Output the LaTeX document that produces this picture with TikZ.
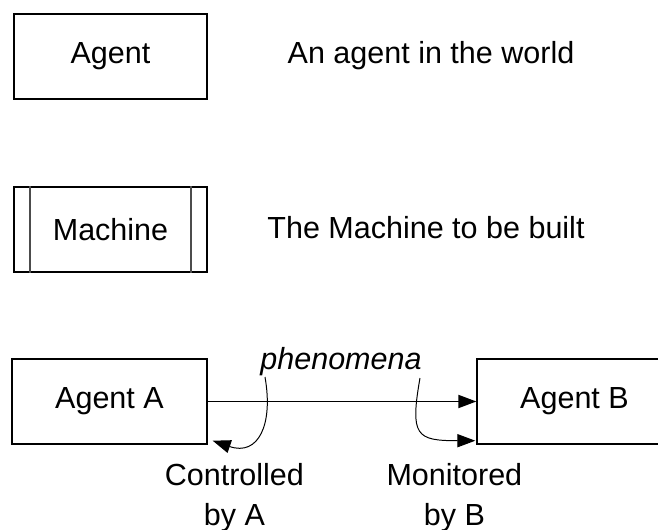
\documentclass[tikz,border=0pt]{standalone}
\usepackage{fontspec}
\setmainfont{Liberation Sans}
\usetikzlibrary{arrows.meta}

\begin{document}
\begin{tikzpicture}
\useasboundingbox (0,0) rectangle (16.45,-13.25);

\begin{scope}[every node/.style={font=\fontsize{21.7}{28.45}\selectfont, inner sep=0pt}]
    \node (agent) at (2.7625, -1.4125) [draw, line width=1pt, minimum width=4.825cm, minimum height=2.125cm] {Agent};
    \node (agenttext) at (10.775, -1.4) {An agent in the world};

    \node (machine) at (2.7625, -5.7375) [draw, line width=1pt, minimum width=4.825cm, minimum height=2.125cm] {Machine};
    \node (machinetext) at (10.65, -5.7) {The Machine to be built};

    \node (agentA) at (2.7375, -10.0375) [draw, line width=1pt, minimum width=4.875cm, minimum height=2.125cm] {Agent A};
    \node (agentB) at (14.3625, -10.0375) [draw, line width=1pt, minimum width=4.875cm, minimum height=2.125cm] {Agent B};

    \node (phen) at (8.525, -9.05) [font=\fontsize{21.7}{28.45}\selectfont\itshape] {phenomena};

    \node (ctrltext) at (5.86, -12.45) [align=center] {Controlled\\by A};
    \node (montext) at (11.36, -12.45) [align=center] {Monitored\\by B};
\end{scope}

% machine side bars
\draw [line width=1.3pt, black!70] ([xshift=0.425cm]machine.north west) -- ([xshift=0.425cm]machine.south west);
\draw [line width=1.3pt, black!70] ([xshift=-0.425cm]machine.north east) -- ([xshift=-0.425cm]machine.south east);

\coordinate (ctrl) at (6.625, -9.425);
\coordinate (ctrltip) at ([shift={(0.125,0.1)}]agentA.south east);
\coordinate (mon) at (10.5, -9.45);
\coordinate (montip) at ([shift={(-0.025,0.1)}]agentB.south west);

\begin{scope}[>={Triangle[length=0.45cm, width=0.33cm]}]
    \path [->] (agentA) edge [line width=1pt] (agentB);

    \path [->] (ctrl) edge [line width=0.7pt, out=-80, in=-19, looseness=1.5] (ctrltip);
    \path [->] (mon) edge [line width=0.7pt, out=-100, in=180, looseness=1.8] (montip);
\end{scope}
\end{tikzpicture}
\end{document}
